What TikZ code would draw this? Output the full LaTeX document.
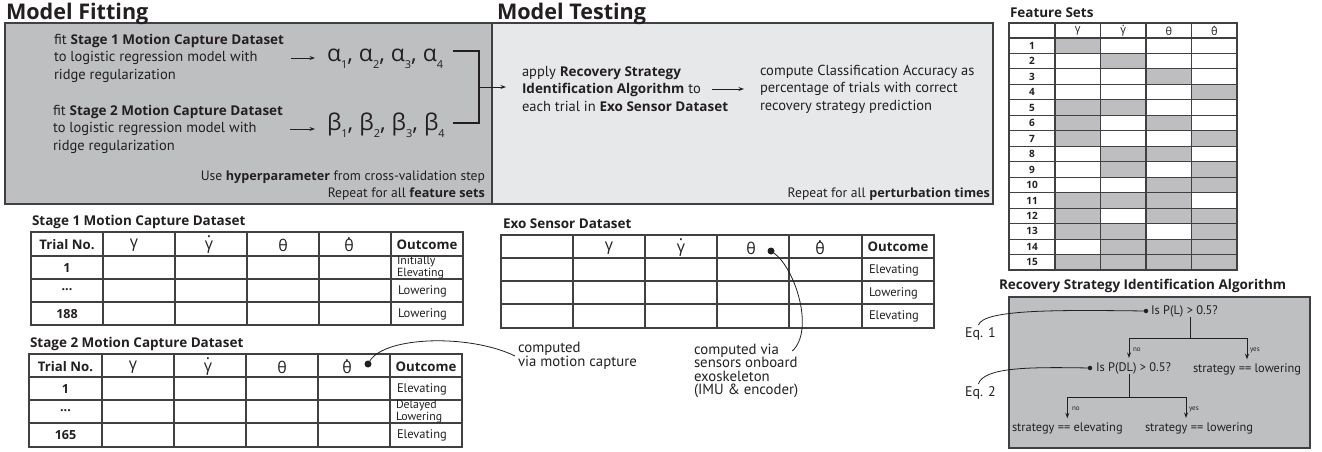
\documentclass[tikz,border=0pt]{standalone}
\usepackage{fontspec}
\setmainfont{PT Sans}
\newfontfamily\gkf{Open Sans}
\newfontfamily\osb{Open Sans}[Scale=0.93]
\usetikzlibrary{arrows.meta,calc}
\definecolor{lineg}{RGB}{64,64,66}
\definecolor{boxgray}{RGB}{190,191,193}
\definecolor{lightbox}{RGB}{231,232,233}
\definecolor{cellgray}{RGB}{190,190,192}
\definecolor{ink}{RGB}{35,31,32}
\newcommand\B[1]{{\osb\bfseries #1}}
\newcommand\dotover[1]{\ooalign{#1\cr\hidewidth\raisebox{0.72em}{.}\hidewidth\cr}}
\newcommand\fs[2]{\fontsize{#1}{#2}\selectfont}
\newcommand\subd[1]{\raisebox{-7pt}{\fs{11}{11}#1}}
\begin{document}
\begin{tikzpicture}[x=1pt,y=-1pt,
  every node/.style={text=ink, inner sep=0pt, outer sep=0pt},
  ln/.style={draw=ink, line width=0.9pt},
  arr/.style={ln, -{Stealth[length=5.5pt,width=4pt]}},
  grid/.style={draw=lineg, line width=1.1pt},
  body/.style={font=\fs{14.5}{17.5}, align=left, anchor=west},
  foot/.style={font=\fs{13.6}{17}, anchor=base east},
  head/.style={font=\osb\fs{23.2}{26}\bfseries, anchor=base west},
  ttl/.style={font=\osb\fs{14.5}{16}\bfseries, anchor=base west},
  gk/.style={font=\fs{16}{18}\gkf},
  hd/.style={font=\osb\fs{14.2}{16}\bfseries},
  num/.style={font=\osb\fs{13.5}{16}\bfseries},
  oc/.style={font=\fs{12.5}{10}, align=left, anchor=west},
  oc2/.style={font=\fs{11.8}{10.4}, align=left, anchor=west},
  alg/.style={font=\fs{12.4}{14}},
  tiny/.style={font=\fs{7}{8}, anchor=west},
  fsn/.style={font=\osb\fs{10.8}{12}\bfseries},
  fsg/.style={font=\fs{11}{12}\gkf},
  dot/.style={circle, fill=ink, minimum size=#1},
  note/.style={font=\fs{14.8}{13.5}, align=left},
]
\useasboundingbox (0,0) rectangle (1322,452);

% ---------- Model fitting / testing boxes
\draw[fill=boxgray, draw=lineg, line width=1.2pt] (5,23) rectangle (492,204);
\draw[fill=lightbox, draw=lineg, line width=1.2pt] (492,23) rectangle (993,204);
\draw[draw=lineg, line width=2.6pt] (492,23) -- (492,204);

\node[head] (hfit) at (6,20) {Model Fitting};
\node[head] (htest) at (497,20) {Model Testing};

\node[body] (fit1) at (54,58) {fit \B{Stage 1 Motion Capture Dataset}\\to logistic regression model with\\ridge regularization};
\node[body] (fit2) at (53,129) {fit \B{Stage 2 Motion Capture Dataset}\\to logistic regression model with\\ridge regularization};
\node[font=\fs{23}{26}\gkf, anchor=base west] (alpha) at (327,62) {α\subd1, α\subd2, α\subd3, α\subd4};
\node[font=\fs{23}{26}\gkf, anchor=base west] (beta) at (327,130) {β\subd1, β\subd2, β\subd3, β\subd4};

\node[foot] (hyp) at (485,180) {Use \B{hyperparameter} from cross-validation step};
\node[foot] (rep1) at (485,197) {Repeat for all \B{feature sets}};

\node[body] (apply) at (522,89) {apply \B{Recovery Strategy}\\\B{Identification Algorithm} to\\each trial in \B{Exo Sensor Dataset}};
\node[body] (compute) at (760,89) {compute Classification Accuracy as\\percentage of trials with correct\\recovery strategy prediction};
\node[foot] (rep2) at (990,197) {Repeat for all \B{perturbation times}};

\draw[arr] ($(fit1.east)+(7,0)$) -- ($(fit1.east -| alpha.west)+(-12,0)$);
\draw[arr] ($(fit2.east)+(7,0)$) -- ($(fit2.east -| beta.west)+(-12,0)$);
\coordinate (bra) at (453,51);
\coordinate (brb) at (453,123);
\coordinate (brj) at (479,87);
\draw[ln, line width=1.1pt] (bra) -| (brj |- brb) -- (brb);
\draw[arr] (brj) -- ($(brj -| apply.west)+(-16,0)$);
\draw[arr] ($(compute.west)+(-48,0)$) -- ($(compute.west)+(-16,0)$);

% ---------- Stage 1 table
\node[ttl] (t1) at (32,225) {Stage 1 Motion Capture Dataset};
\draw[grid] (31,232) rectangle (463,325);
\foreach \x in {103,175,247,319,391} \draw[grid] (\x,232) -- (\x,325);
\foreach \y in {256,279,302} \draw[grid] (31,\y) -- (463,\y);
\node[hd] (t1h0) at (67,245) {Trial No.};
\node[gk] (t1h1) at (134,245) {γ};
\node[gk] (t1h2) at (209,245) {\dotover{γ}};
\node[gk] (t1h3) at (283,245) {θ};
\node[gk] (t1h4) at (349,245) {\dotover{θ}};
\node[hd] (t1h5) at (427,245) {Outcome};
\node[num] (t1r1) at (67,268) {1};
\node[num] (t1r2) at (67,290) {...};
\node[num] (t1r3) at (67,314) {188};
\node[oc2] (t1o1) at (397,267.5) {Initially\\Elevating};
\node[oc] (t1o2) at (398,291) {Lowering};
\node[oc] (t1o3) at (398,314) {Lowering};

% ---------- Stage 2 table
\node[ttl] (t2) at (30,347) {Stage 2 Motion Capture Dataset};
\draw[grid] (29,354) rectangle (462,447);
\foreach \x in {102,174,246,318,390} \draw[grid] (\x,354) -- (\x,447);
\foreach \y in {377,400,423} \draw[grid] (29,\y) -- (462,\y);
\node[hd] (t2h0) at (65.5,367) {Trial No.};
\node[gk] (t2h1) at (133,367) {γ};
\node[gk] (t2h2) at (208,367) {\dotover{γ}};
\node[gk] (t2h3) at (282,367) {θ};
\node[gk] (t2h4) at (347,367) {\dotover{θ}};
\node[hd] (t2h5) at (426,367) {Outcome};
\node[num] (t2r1) at (65.5,389) {1};
\node[num] (t2r2) at (65.5,411) {...};
\node[num] (t2r3) at (65.5,435) {165};
\node[oc] (t2o1) at (397,389) {Elevating};
\node[oc2] (t2o2) at (396,411.5) {Delayed\\Lowering};
\node[oc] (t2o3) at (397,435) {Elevating};

\node[dot=7pt] (dot2) at (368,364) {};
\node[note, anchor=west] (cmp1) at (518,356) {computed\\via motion capture};
\draw[ln, line width=0.8pt] (dot2) .. controls (385,336) and (470,334) .. ($(cmp1.west)+(-3,0)$);

% ---------- Exo sensor table
\node[ttl] (t3) at (503,228) {Exo Sensor Dataset};
\draw[grid] (501,235) rectangle (934,328);
\foreach \x in {573,645,717,789,862} \draw[grid] (\x,235) -- (\x,328);
\foreach \y in {258,281,304} \draw[grid] (501,\y) -- (934,\y);
\node[gk] (t3h1) at (609,248) {γ};
\node[gk] (t3h2) at (681,248) {\dotover{γ}};
\node[gk] (t3h3) at (751,248) {θ};
\node[gk] (t3h4) at (820,248) {\dotover{θ}};
\node[hd] (t3h5) at (898,247) {Outcome};
\node[oc] (t3o1) at (869,270) {Elevating};
\node[oc] (t3o2) at (869,293) {Lowering};
\node[oc] (t3o3) at (869,316) {Elevating};

\node[dot=7pt] (dotE) at (771,251) {};
\node[note, anchor=north west] (exotxt) at (694,344) {computed via\\sensors onboard\\exoskeleton\\(IMU \& encoder)};
\draw[ln, line width=0.8pt] (dotE) .. controls (795,268) and (815,330) .. ($(exotxt.north east)+(-6,7)$);

% ---------- Feature sets
\node[ttl] (tf) at (1010,18) {Feature Sets};
\foreach \r/\c in {1/1,2/2,3/3,4/4,5/1,5/2,6/1,6/3,7/1,7/4,8/2,8/3,9/2,9/4,10/3,10/4,11/1,11/2,11/3,12/1,12/3,12/4,13/1,13/2,13/4,14/2,14/3,14/4,15/1,15/2,15/3,15/4}
  \fill[cellgray] ({1055+(\c-1)*45.5},{38+(\r-1)*15.47}) rectangle ++(45.5,15.47);
\draw[grid] (1009,23) rectangle (1237,270);
\foreach \x in {1055,1100.5,1146,1191.5} \draw[grid] (\x,23) -- (\x,270);
\draw[grid] (1009,38) -- (1237,38);
\foreach \k in {1,...,14} \draw[grid] (1009,{38+\k*15.47}) -- (1237,{38+\k*15.47});
\node[fsg] (fh1) at (1077.75,31) {γ};
\node[fsg] (fh2) at (1123.25,31) {\dotover{γ}};
\node[fsg] (fh3) at (1168.75,31) {θ};
\node[fsg] (fh4) at (1214.25,31) {\dotover{θ}};
\foreach \r in {1,...,15}
  \node[fsn] (fn\r) at (1032,{38+(\r-0.5)*15.47}) {\r};

% ---------- Algorithm
\node[ttl] (ta) at (999,289) {Recovery Strategy Identification Algorithm};
\draw[fill=boxgray, draw=lineg, line width=1.2pt] (1009,297) rectangle (1310,448);

\node[dot=4.5pt] (d1) at (1146,311) {};
\node[alg, anchor=west] (q1) at (1151,311) {Is P(L) > 0.5?};
\node[font=\fs{14}{16}, anchor=base west] (eq1) at (965,337) {Eq. 1};
\node[dot=4.5pt] (d2) at (1090,368) {};
\node[alg, anchor=west] (q2) at (1096,368) {Is P(DL) > 0.5?};
\node[alg, anchor=west] (s1) at (1193,369) {strategy == lowering};
\node[font=\fs{14}{16}, anchor=base west] (eq2) at (965,396) {Eq. 2};
\node[alg, anchor=west] (s2) at (1012,428) {strategy == elevating};
\node[alg, anchor=west] (s3) at (1145,428) {strategy == lowering};
\node[tiny] (no1) at (1133,350) {no};
\node[tiny] (yes1) at (1250,350) {yes};
\node[tiny] (no2) at (1072,409) {no};
\node[tiny] (yes2) at (1189,409) {yes};

\draw[ln, line width=0.8pt] ($(eq1.north)+(-2,-2)$) .. controls (984,309) and (1060,310) .. (d1);
\draw[ln, line width=0.8pt] ($(eq2.north)+(-2,-2)$) .. controls (984,367) and (1030,367) .. (d2);

\coordinate (b1) at (1190,338);
\coordinate (a1) at (1129,358);
\draw[ln] (b1 |- q1.south) -- (b1);
\draw[arr] (b1) -| (a1);
\draw[arr] (b1) -| ($(s1.north)+(0,-4)$);
\coordinate (b2) at (1129,397);
\coordinate (a2) at (1186,418);
\draw[ln] (b2 |- q2.south) -- (b2);
\draw[arr] (b2) -| ($(s2.north)+(0,-4)$);
\draw[arr] (b2) -| (a2);
\end{tikzpicture}
\end{document}
